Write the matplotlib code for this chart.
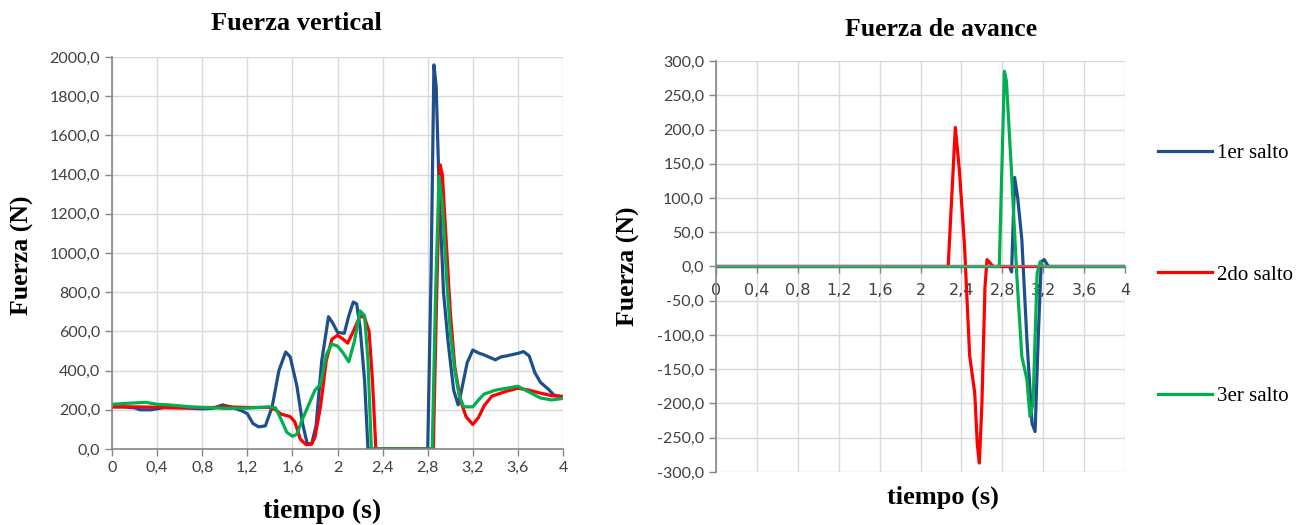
import matplotlib
matplotlib.use('Agg')
import matplotlib.pyplot as plt
from matplotlib.ticker import FuncFormatter

# ---- Fuerza vertical (N) ----
t_v1 = [0.0, 0.1, 0.2, 0.25, 0.35, 0.45, 0.6, 0.8, 0.9, 0.98, 1.05, 1.15, 1.2, 1.25, 1.3, 1.36,
        1.42, 1.48, 1.54, 1.58, 1.64, 1.69, 1.73, 1.77, 1.81, 1.86, 1.92, 1.96, 2.0, 2.06, 2.1,
        2.14, 2.17, 2.2, 2.24, 2.27, 2.8, 2.83, 2.855, 2.875, 2.9, 2.94, 2.98, 3.03, 3.07, 3.1,
        3.15, 3.2, 3.25, 3.3, 3.4, 3.45, 3.5, 3.6, 3.65, 3.7, 3.75, 3.8, 3.87, 3.92, 4.0]
f_v1 = [215, 215, 210, 200, 200, 210, 210, 205, 208, 225, 215, 195, 180, 130, 113, 118,
        215, 400, 495, 470, 320, 130, 30, 25, 120, 450, 675, 640, 595, 590, 680,
        750, 740, 620, 350, 0, 0, 900, 1960, 1850, 1350, 800, 550, 300, 225, 300,
        440, 505, 490, 480, 455, 470, 475, 488, 497, 475, 390, 340, 305, 275, 265]

t_v2 = [0.0, 0.2, 0.4, 0.6, 0.9, 1.0, 1.2, 1.4, 1.45, 1.5, 1.58, 1.62, 1.67, 1.72, 1.77, 1.8,
        1.85, 1.9, 1.95, 2.0, 2.05, 2.09, 2.14, 2.2, 2.24, 2.28, 2.31, 2.34, 2.85, 2.88, 2.91,
        2.93, 2.97, 3.0, 3.04, 3.09, 3.14, 3.2, 3.25, 3.3, 3.37, 3.45, 3.5, 3.6, 3.7, 3.8, 3.9, 4.0]
f_v2 = [215, 215, 213, 210, 212, 215, 212, 212, 200, 178, 165, 140, 50, 22, 25, 60,
        220, 450, 560, 580, 560, 540, 600, 680, 670, 600, 350, 0, 0, 800, 1450,
        1400, 1000, 700, 420, 250, 165, 125, 160, 220, 270, 285, 295, 310, 300, 285, 272, 268]

t_v3 = [0.0, 0.1, 0.2, 0.3, 0.4, 0.5, 0.7, 0.9, 1.0, 1.2, 1.4, 1.45, 1.5, 1.55, 1.6, 1.64,
        1.68, 1.74, 1.8, 1.85, 1.9, 1.95, 2.0, 2.05, 2.1, 2.15, 2.2, 2.24, 2.27, 2.3, 2.84,
        2.87, 2.9, 2.93, 2.97, 3.0, 3.04, 3.08, 3.12, 3.2, 3.25, 3.3, 3.4, 3.5, 3.6, 3.7, 3.8, 3.9, 4.0]
f_v3 = [228, 232, 235, 238, 228, 225, 215, 210, 207, 208, 215, 210, 150, 85, 65, 75,
        140, 220, 300, 330, 480, 535, 525, 490, 445, 550, 705, 680, 450, 0, 0,
        800, 1390, 1250, 850, 600, 400, 270, 215, 215, 250, 280, 300, 310, 320, 290, 260, 250, 258]

# ---- Fuerza de avance (N) ----
t_a1 = [0.0, 2.87, 2.89, 2.92, 2.95, 2.99, 3.04, 3.09, 3.12, 3.15, 3.18, 3.21, 3.25, 4.0]
f_a1 = [0, 0, -8, 130, 100, 40, -107, -229, -241, -107, 7, 10, 0, 0]

t_a2 = [0.0, 2.27, 2.34, 2.38, 2.43, 2.48, 2.53, 2.555, 2.575, 2.6, 2.63, 2.65, 2.68, 2.71, 4.0]
f_a2 = [0, 0, 203, 140, 30, -130, -185, -260, -287, -200, -30, 10, 5, 0, 0]

t_a3 = [0.0, 2.77, 2.82, 2.84, 2.89, 2.94, 2.99, 3.04, 3.07, 3.1, 3.14, 3.17, 3.2, 4.0]
f_a3 = [0, 0, 285, 270, 136, -10, -131, -165, -219, -200, -10, 7, 0, 0]

labels = ['1er salto', '2do salto', '3er salto']
colors = ['#1f4e8c', '#ff0000', '#00b050']
x_ticks = [0, 0.4, 0.8, 1.2, 1.6, 2, 2.4, 2.8, 3.2, 3.6, 4]

serif = 'Liberation Serif'
sans = 'Lato'


def fmt_x(v, pos):
    s = ('%.1f' % v).rstrip('0').rstrip('.')
    return s.replace('.', ',')


def fmt_y(v, pos):
    return ('%.1f' % v).replace('.', ',')


def style(ax):
    ax.grid(True, color='#d9d9d9', linewidth=1.0)
    ax.set_axisbelow(True)
    for s in ['top', 'right']:
        ax.spines[s].set_visible(False)
    for s in ['left', 'bottom']:
        ax.spines[s].set_color('#868686')
        ax.spines[s].set_linewidth(1.2)
    ax.tick_params(direction='out', length=5, width=1.0, color='#868686',
                   labelsize=11.5, labelcolor='#404040')
    ax.xaxis.set_major_formatter(FuncFormatter(fmt_x))
    ax.yaxis.set_major_formatter(FuncFormatter(fmt_y))
    for lab in ax.get_xticklabels() + ax.get_yticklabels():
        lab.set_fontfamily(sans)


fig = plt.figure(figsize=(13.09, 5.25), dpi=100)

# left chart
ax1 = fig.add_axes([0.0856, 0.1448, 0.3445, 0.7466])
for t, f, c in zip([t_v1, t_v2, t_v3], [f_v1, f_v2, f_v3], colors):
    ax1.plot(t, f, color=c, linewidth=2.3, solid_joinstyle='round')
ax1.set_xlim(0, 4)
ax1.set_ylim(0, 2000)
ax1.set_xticks(x_ticks)
ax1.set_yticks(range(0, 2001, 200))
style(ax1)

# right chart
ax2 = fig.add_axes([0.547, 0.101, 0.3125, 0.7828])
lines = []
for t, f, c, lab in zip([t_a1, t_a2, t_a3], [f_a1, f_a2, f_a3], colors, labels):
    ln, = ax2.plot(t, f, color=c, linewidth=2.3, label=lab, solid_joinstyle='round')
    lines.append(ln)
ax2.set_xlim(0, 4)
ax2.set_ylim(-300, 300)
ax2.set_xticks(x_ticks)
ax2.set_yticks(range(-300, 301, 50))
style(ax2)
ax2.spines['bottom'].set_position(('data', 0))
ax2.tick_params(axis='x', pad=7)

# titles and axis labels
fig.text(296 / 1309, 1 - 24 / 525, 'Fuerza vertical', family=serif, weight='bold',
         fontsize=19, ha='center', va='center')
fig.text(941 / 1309, 1 - 30 / 525, 'Fuerza de avance', family=serif, weight='bold',
         fontsize=18.5, ha='center', va='center')
fig.text(322 / 1309, 1 - 511 / 525, 'tiempo (s)', family=serif, weight='bold',
         fontsize=20, ha='center', va='center')
fig.text(943 / 1309, 1 - 497 / 525, 'tiempo (s)', family=serif, weight='bold',
         fontsize=19, ha='center', va='center')
fig.text(22 / 1309, 1 - 255 / 525, 'Fuerza (N)', family=serif, weight='bold',
         fontsize=18.5, ha='center', va='center', rotation=90)
fig.text(628 / 1309, 1 - 266 / 525, 'Fuerza (N)', family=serif, weight='bold',
         fontsize=18.5, ha='center', va='center', rotation=90)

fig.legend(handles=lines, loc='center left', bbox_to_anchor=(1158 / 1309, 1 - 275 / 525),
           frameon=False, prop={'family': serif, 'size': 15}, handlelength=2.6,
           handletextpad=0.25, labelspacing=4.9, borderpad=0, borderaxespad=0)

fig.savefig('out.png', dpi=100)
